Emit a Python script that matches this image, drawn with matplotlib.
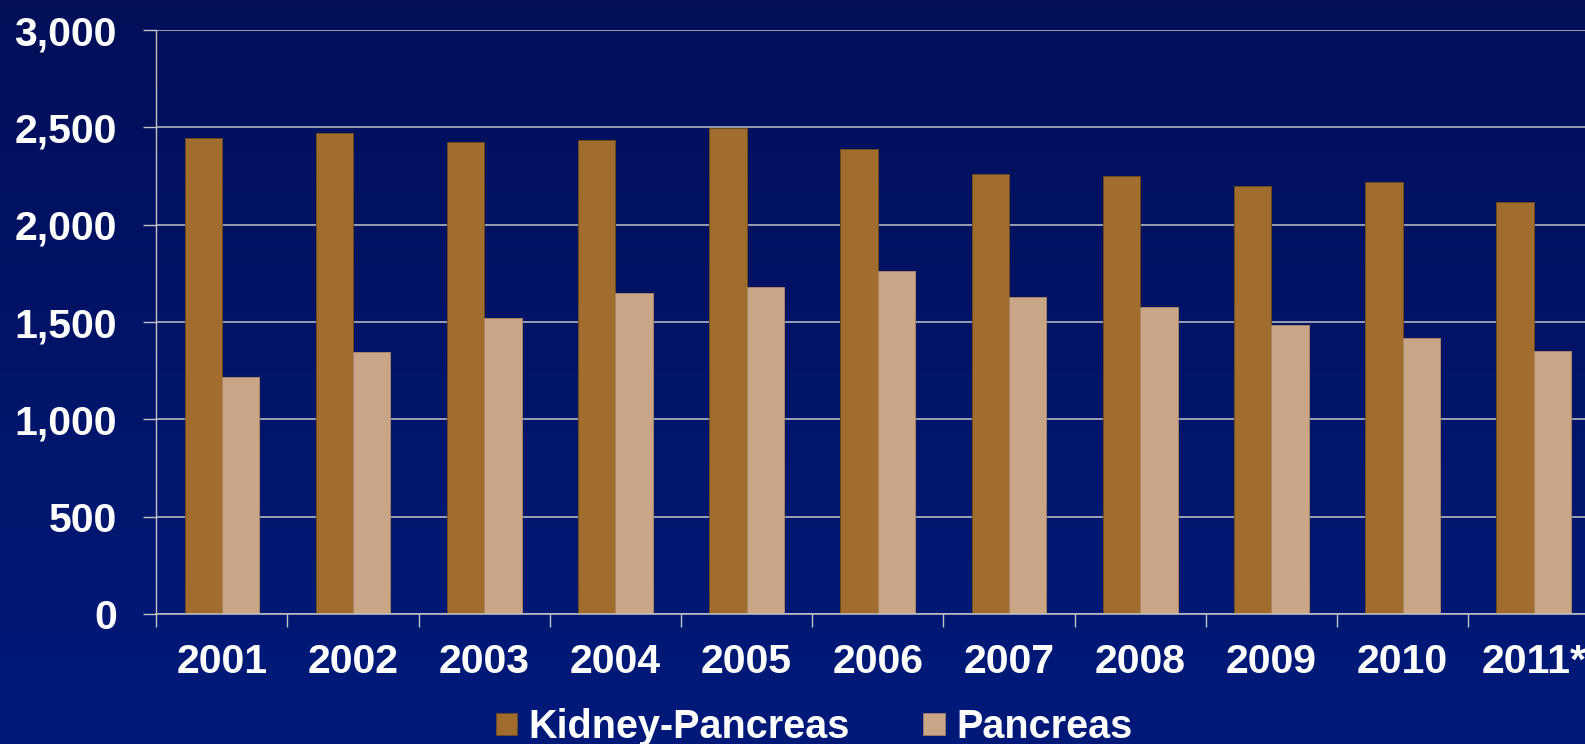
import numpy as np
import matplotlib
matplotlib.use("Agg")
import matplotlib.pyplot as plt
from matplotlib.patches import Patch

years = ["2001", "2002", "2003", "2004", "2005", "2006", "2007", "2008", "2009", "2010", "2011*"]
kidney_pancreas = [2447, 2471, 2424, 2435, 2498, 2389, 2260, 2248, 2200, 2219, 2116]
pancreas = [1218, 1346, 1520, 1650, 1680, 1762, 1628, 1575, 1485, 1416, 1353]
yticks = [0, 500, 1000, 1500, 2000, 2500, 3000]
ytick_labels = ["0", "500", "1,000", "1,500", "2,000", "2,500", "3,000"]

KP_COLOR = "#A16D2E"
P_COLOR = "#C9A688"
GRID = "#C4C4C4"

plt.rcParams['font.family'] = ['Liberation Sans', 'DejaVu Sans']

W, H = 1585, 744
fig = plt.figure(figsize=(W / 100, H / 100), dpi=100)

# background gradient
bg = fig.add_axes([0, 0, 1, 1])
bg.set_axis_off()
top = np.array([2, 14, 88]) / 255.0
bot = np.array([0, 26, 122]) / 255.0
t = np.linspace(0, 1, 256)[:, None]
grad = top[None, :] * (1 - t) + bot[None, :] * t
grad = np.repeat(grad[:, None, :], 4, axis=1)
bg.imshow(grad, aspect='auto', extent=[0, 1, 0, 1], origin='upper')
bg.set_xlim(0, 1)
bg.set_ylim(0, 1)

left = 156.3 / W
bottom = 1 - 614 / H
width = 1443 / W
height = 584 / H
ax = fig.add_axes([left, bottom, width, height])
ax.set_facecolor('none')

x = np.arange(len(years))
bw = 0.285
ax.bar(x - bw / 2, kidney_pancreas, width=bw, color=KP_COLOR, edgecolor="#6E4A1E",
       linewidth=0.7, zorder=3, label="Kidney-Pancreas")
ax.bar(x + bw / 2, pancreas, width=bw, color=P_COLOR, edgecolor="#A8865F",
       linewidth=0.7, zorder=3, label="Pancreas")

ax.set_xlim(-0.5, len(years) - 0.5)
ax.set_ylim(0, 3000)

ax.set_yticks(yticks)
ax.set_yticklabels(ytick_labels)
ax.yaxis.grid(True, color=GRID, linewidth=1.1, zorder=1)
ax.tick_params(axis='y', which='major', length=9.4, width=1.0, color=GRID,
               labelcolor='white', labelsize=29.5, pad=19, direction='out')
for lbl in ax.get_yticklabels():
    lbl.set_fontweight('bold')

ax.set_xticks(x)
ax.set_xticklabels(years)
ax.set_xticks(np.arange(-0.5, len(years), 1.0), minor=True)
ax.tick_params(axis='x', which='major', length=0, labelcolor='white',
               labelsize=29.5, pad=21)
ax.tick_params(axis='x', which='minor', length=9, width=1.0, color=GRID, direction='out')
for lbl in ax.get_xticklabels():
    lbl.set_fontweight('bold')

for side in ['top', 'right']:
    ax.spines[side].set_visible(False)
ax.spines['left'].set_color(GRID)
ax.spines['left'].set_linewidth(1.0)
ax.spines['bottom'].set_color(GRID)
ax.spines['bottom'].set_linewidth(1.1)
ax.spines['bottom'].set_zorder(4)

handles = [Patch(facecolor=KP_COLOR, edgecolor="#6E4A1E", linewidth=0.5),
           Patch(facecolor=P_COLOR, edgecolor="#A8865F", linewidth=0.5)]
leg = fig.legend(handles, ["Kidney-Pancreas", "Pancreas"], loc='center',
                 bbox_to_anchor=(814 / W, 1 - 727 / H), ncol=2, frameon=False,
                 handlelength=0.55, handleheight=0.5, handletextpad=0.28,
                 columnspacing=1.85, borderpad=0.0, borderaxespad=0.0,
                 prop={'size': 28.5, 'weight': 'bold', 'family': ['Liberation Sans', 'DejaVu Sans']})
for txt in leg.get_texts():
    txt.set_color('white')

fig.savefig("out.png", dpi=100)
